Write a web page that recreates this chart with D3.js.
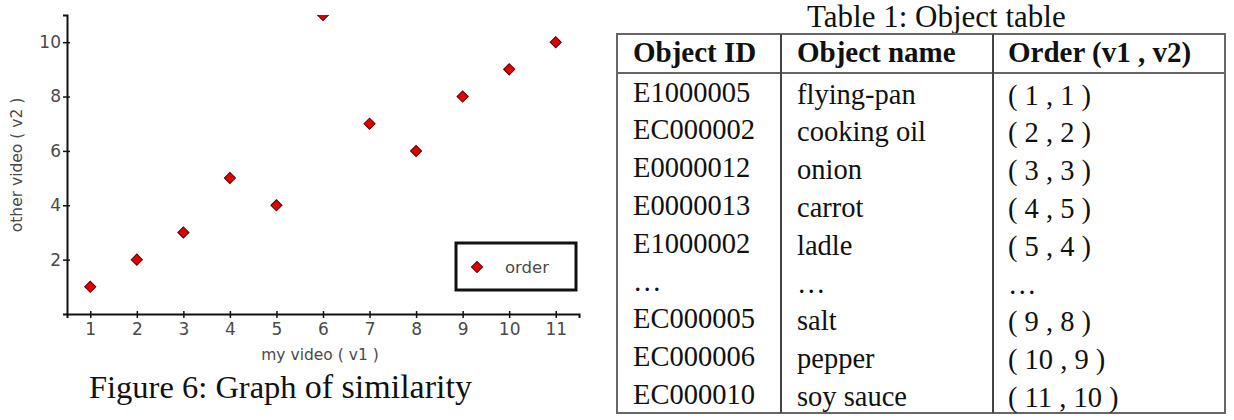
<!DOCTYPE html>
<html>
<head>
<meta charset="utf-8">
<script src="https://cdn.jsdelivr.net/npm/d3@7"></script>
<style>
  body { margin: 0; background: #fff; }
  svg { display: block; }
</style>
</head>
<body>
<div id="chart"></div>
<script>
// scatter data: order of each object in my video (v1) and the other video (v2)
const myVideo    = [1, 2, 3, 4, 5, 6, 7, 8, 9, 10, 11];
const otherVideo = [1, 2, 3, 5, 4, 11, 7, 6, 8, 9, 10];
const xTicks = [1, 2, 3, 4, 5, 6, 7, 8, 9, 10, 11];
const yTicks = [2, 4, 6, 8, 10];

// table data
const tableHeaders = ["Object ID", "Object name", "Order (v1 , v2)"];
const objectIds   = ["E1000005", "EC000002", "E0000012", "E0000013", "E1000002", "\u2026", "EC000005", "EC000006", "EC000010"];
const objectNames = ["flying-pan", "cooking oil", "onion", "carrot", "ladle", "\u2026", "salt", "pepper", "soy sauce"];
const orders      = ["( 1 , 1 )", "( 2 , 2 )", "( 3 , 3 )", "( 4 , 5 )", "( 5 , 4 )", "\u2026", "( 9 , 8 )", "( 10 , 9 )", "( 11 , 10 )"];

const W = 1234, H = 420;
const svg = d3.select("#chart").append("svg")
    .attr("width", W)
    .attr("height", H);

const sans = "DejaVu Sans, Verdana, sans-serif";
const serif = "Liberation Serif, Times New Roman, serif";
const grey = "#4a4a4a";

// ---------- scatter plot ----------
const xScale = d3.scaleLinear().domain([0.5, 11.5]).range([67, 579]);
const yScale = d3.scaleLinear().domain([0, 11]).range([314, 15]);

// x axis
const xAxis = svg.append("g")
    .attr("transform", `translate(0, ${yScale(0)})`)
    .call(d3.axisBottom(xScale).tickValues(xTicks).tickSizeOuter(0).tickSize(4).tickPadding(5));
xAxis.select(".domain").attr("stroke", "#111").attr("stroke-width", 2);
xAxis.selectAll(".tick line").attr("y1", -3).attr("y2", 4).attr("stroke", "#111").attr("stroke-width", 1.5);
xAxis.selectAll(".tick text")
    .attr("fill", grey)
    .style("font-family", sans)
    .style("font-size", "17px");

// y axis
const yAxis = svg.append("g")
    .attr("transform", `translate(${xScale(0.5)}, 0)`)
    .call(d3.axisLeft(yScale).tickValues(yTicks).tickSizeOuter(0).tickSize(4).tickPadding(2));
yAxis.select(".domain").attr("stroke", "#111").attr("stroke-width", 2);
yAxis.selectAll(".tick line").attr("x1", -4).attr("x2", 3).attr("stroke", "#111").attr("stroke-width", 1.5);
yAxis.selectAll(".tick text")
    .attr("fill", grey)
    .style("font-family", sans)
    .style("font-size", "17px");

// clip so the point at the top edge is cut like the original
svg.append("clipPath").attr("id", "plotClip")
    .append("rect")
    .attr("x", xScale(0.5))
    .attr("y", yScale(11))
    .attr("width", xScale(11.5) - xScale(0.5))
    .attr("height", yScale(0) - yScale(11));

const diamond = d3.symbol().type(d3.symbolSquare).size(62);

svg.append("g")
    .attr("clip-path", "url(#plotClip)")
    .selectAll(".dot")
    .data(myVideo)
    .enter()
    .append("path")
    .attr("class", "dot")
    .attr("d", diamond)
    .attr("transform", (d, i) => `translate(${xScale(d)}, ${yScale(otherVideo[i])}) rotate(45)`)
    .attr("fill", "#e00000")
    .attr("stroke", "#5a0000")
    .attr("stroke-width", 1);

// axis titles
svg.append("text")
    .attr("x", 320)
    .attr("y", 360)
    .attr("text-anchor", "middle")
    .attr("fill", grey)
    .style("font-family", sans)
    .style("font-size", "15.5px")
    .text("my video ( v1 )");

svg.append("text")
    .attr("transform", "rotate(-90)")
    .attr("x", -165)
    .attr("y", 22)
    .attr("text-anchor", "middle")
    .attr("fill", grey)
    .style("font-family", sans)
    .style("font-size", "15.5px")
    .text("other video ( v2 )");

// legend
const legend = svg.append("g");
legend.append("rect")
    .attr("x", 456)
    .attr("y", 243)
    .attr("width", 120)
    .attr("height", 47)
    .attr("fill", "#fff")
    .attr("stroke", "#111")
    .attr("stroke-width", 3);
legend.append("path")
    .attr("d", diamond)
    .attr("transform", "translate(477, 267) rotate(45)")
    .attr("fill", "#e00000")
    .attr("stroke", "#5a0000")
    .attr("stroke-width", 1);
legend.append("text")
    .attr("x", 505)
    .attr("y", 273)
    .attr("fill", grey)
    .style("font-family", sans)
    .style("font-size", "16.5px")
    .text("order");

// figure caption
const caption = svg.append("text")
    .attr("x", 89)
    .attr("y", 398)
    .attr("fill", "#111")
    .style("font-family", serif)
    .style("font-size", "32.5px");
caption.append("tspan").text("Figure 6: Graph ");
caption.append("tspan").style("font-size", "34px").text("of similarity");

// ---------- table ----------
const tableLeft = 617, tableRight = 1225, tableTop = 34, tableBottom = 413, headerLine = 73;
const colLines = [781, 993];
const colText = [633, 797, 1008];
const colShift = [0, 2, 3];
const rowY = d3.scaleLinear().domain([0, objectIds.length - 1]).range([101.5, 404]);

svg.append("text")
    .attr("x", 807)
    .attr("y", 27)
    .attr("fill", "#111")
    .style("font-family", serif)
    .style("font-size", "31px")
    .text("Table 1: Object table");

const table = svg.append("g");
table.append("rect")
    .attr("x", tableLeft)
    .attr("y", tableTop)
    .attr("width", tableRight - tableLeft)
    .attr("height", tableBottom - tableTop)
    .attr("fill", "none")
    .attr("stroke", "#666")
    .attr("stroke-width", 2);
table.append("line")
    .attr("x1", tableLeft).attr("x2", tableRight)
    .attr("y1", headerLine).attr("y2", headerLine)
    .attr("stroke", "#666").attr("stroke-width", 2);
table.selectAll(".colLine")
    .data(colLines)
    .enter()
    .append("line")
    .attr("class", "colLine")
    .attr("x1", d => d).attr("x2", d => d)
    .attr("y1", tableTop).attr("y2", tableBottom)
    .attr("stroke", "#444").attr("stroke-width", 2);

table.selectAll(".header")
    .data(tableHeaders)
    .enter()
    .append("text")
    .attr("class", "header")
    .attr("x", (d, i) => colText[i])
    .attr("y", 62)
    .attr("fill", "#111")
    .style("font-family", serif)
    .style("font-size", "29px")
    .style("font-weight", "bold")
    .text(d => d);

[objectIds, objectNames, orders].forEach((col, c) => {
    table.selectAll(".cell" + c)
        .data(col)
        .enter()
        .append("text")
        .attr("class", "cell" + c)
        .attr("x", colText[c])
        .attr("y", (d, i) => rowY(i) + colShift[c])
        .attr("fill", "#111")
        .style("font-family", serif)
        .style("font-size", "28.5px")
        .text(d => d);
});
</script>
</body>
</html>
